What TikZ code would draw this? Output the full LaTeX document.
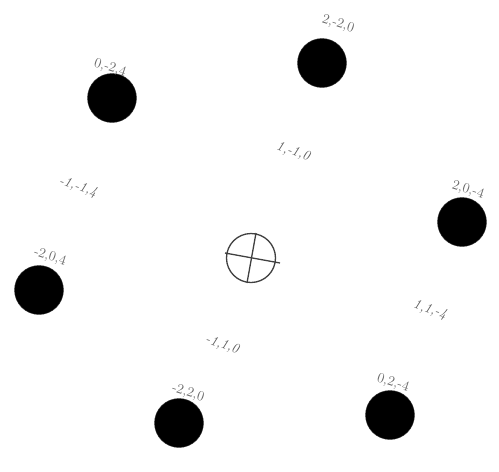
\documentclass[tikz,border=0pt]{standalone}
\usepackage{tikz}
\usetikzlibrary{positioning}

\begin{document}
\begin{tikzpicture}[
    x=1pt, y=-1pt,
    spot/.style={circle, fill=black, draw=black!80, minimum size=49pt, inner sep=0pt},
    idx/.style={font=\fontsize{14}{16}\selectfont, text=black!60, rotate=-18, inner sep=1pt},
    weak/.style={font=\fontsize{14}{16}\selectfont\itshape, text=black!65, rotate=-18, inner sep=1pt},
    ctr/.style={circle, draw=black!75, line width=1.3pt, minimum size=49pt, inner sep=0pt}
]
\useasboundingbox (0,0) rectangle (499,472);

% strong reflections
\node[spot] (s024) at (112,98) {};
\node[spot] (s220) at (322,63) {};
\node[spot] (s204) at (462,222) {};
\node[spot] (sm204) at (39,290) {};
\node[spot] (s024b) at (390,415) {};
\node[spot] (sm220) at (179,423) {};

\node[idx] (l024) at (110,68) {0,-2,4};
\node[idx] (l220) at (338,24) {2,-2,0};
\node[idx] (l204) at (468,190) {2,0,-4};
\node[idx] (lm204) at (50,257) {-2,0,4};
\node[idx] (l024b) at (393,383) {0,2,-4};
\node[idx] (lm220) at (188,393) {-2,2,0};

% forbidden / weak positions
\node[weak] (w110) at (293,152) {1,-1,0};
\node[weak] (w114) at (78,187) {-1,-1,4};
\node[weak] (w11m4) at (430,310) {1,1,-4};
\node[weak] (wm110) at (222,345) {-1,1,0};

% transmitted beam
\node[ctr] (c0) at (251,258) {};
\draw[black!75, line width=1.3pt] (225,253) -- (280,263);
\draw[black!75, line width=1.3pt] (256,233) -- (247,283);
\end{tikzpicture}
\end{document}
